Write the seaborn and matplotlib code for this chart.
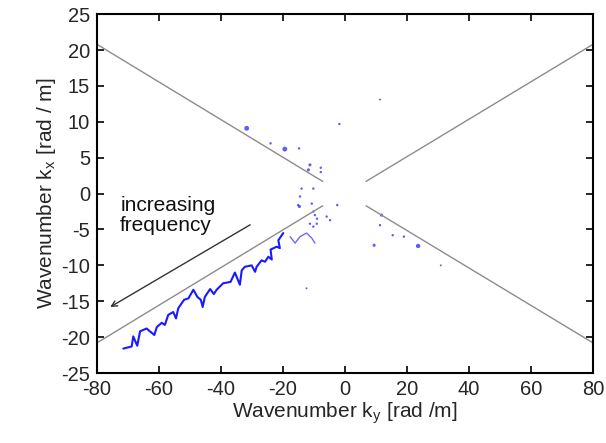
import matplotlib
matplotlib.use("Agg")
import matplotlib.pyplot as plt
import seaborn as sns
import pandas as pd
import numpy as np

# Gray boundary lines (ky, kx endpoints)
line_ul_ky = [-80, -7.2]
line_ul_kx = [20.8, 1.7]
line_ur_ky = [6.8, 80]
line_ur_kx = [1.7, 20.8]
line_ll_ky = [-80, -7.2]
line_ll_kx = [-20.8, -1.7]
line_lr_ky = [6.8, 80]
line_lr_kx = [-1.7, -20.8]

# Blue wiggly ridge
curve_ky = [-71.5, -68.8, -68.3, -67.0, -66.1, -64.0, -62.9, -61.5, -60.7, -59.1,
            -58.1, -57.0, -55.4, -54.5, -53.8, -51.9, -50.5, -48.9, -47.6, -46.5,
            -45.9, -45.2, -43.5, -42.3, -41.4, -39.3, -36.9, -35.5, -33.9, -33.3,
            -32.3, -30.1, -29.0, -28.5, -26.9, -25.8, -24.7, -23.6, -24.0, -22.0,
            -21.0, -21.5, -19.9]
curve_kx = [-21.6, -21.3, -19.9, -21.2, -19.2, -18.8, -19.2, -19.7, -18.6, -18.0,
            -18.3, -16.9, -16.5, -17.4, -16.0, -14.8, -14.6, -13.4, -14.4, -14.8,
            -15.8, -14.4, -13.3, -14.0, -13.4, -12.5, -12.3, -11.0, -12.7, -10.7,
            -10.2, -10.0, -10.9, -10.2, -9.3, -9.5, -8.8, -9.2, -7.8, -7.4,
            -7.6, -6.5, -5.5]

# Fainter continuation
tail_ky = [-17.7, -16.1, -14.5, -12.4, -10.7, -9.7]
tail_kx = [-6.0, -6.9, -6.0, -5.5, -6.2, -6.9]

# Scattered points
dots_ky = [-31.7, -24.0, -19.4, -14.8, -11.3, -11.8, -7.8, -7.8, -1.8, 11.3,
           -14.0, -10.2, -14.5, -14.7, -10.7, -10.2, -9.7, -11.3, -9.1, -10.2,
           -5.9, -4.8, -2.5, 11.8, 11.3, 15.4, 19.0, 23.6, 9.4, 30.9, -12.4,
           -15.1, -9.0]
dots_kx = [9.1, 7.0, 6.2, 6.3, 4.0, 3.3, 3.6, 3.0, 9.7, 13.1,
           0.7, 0.7, -0.4, -1.8, -1.4, -2.5, -3.0, -4.2, -4.2, -4.6,
           -3.2, -3.7, -1.6, -3.0, -4.4, -5.8, -6.0, -7.3, -7.2, -10.0, -13.2,
           -1.6, -3.5]
dots_size = [12, 3, 12, 3, 5, 5, 3, 3, 3, 2,
             3, 3, 3, 5, 3, 3, 3, 3, 3, 3,
             3, 3, 3, 5, 3, 3, 3, 10, 5, 2, 2,
             3, 3]

x_ticks = [-80, -60, -40, -20, 0, 20, 40, 60, 80]
y_ticks = [-25, -20, -15, -10, -5, 0, 5, 10, 15, 20, 25]

sns.set_theme(style="ticks")
plt.rcParams['font.family'] = ['Liberation Sans', 'DejaVu Sans']
plt.rcParams['axes.unicode_minus'] = False

fig = plt.figure(figsize=(6.06, 4.43), dpi=100)
ax = fig.add_axes([0.160, 0.158, 0.8185, 0.810])

gray = "#8c8c8c"
for kys, kxs in [(line_ul_ky, line_ul_kx), (line_ur_ky, line_ur_kx),
                 (line_ll_ky, line_ll_kx), (line_lr_ky, line_lr_kx)]:
    sns.lineplot(x=kys, y=kxs, ax=ax, color=gray, lw=1.0, sort=False)

sns.lineplot(x=curve_ky, y=curve_kx, ax=ax, color="#1a1aff", lw=1.5, sort=False)
sns.lineplot(x=tail_ky, y=tail_kx, ax=ax, color="#6b6bff", lw=1.0, sort=False)

dots = pd.DataFrame({"ky": dots_ky, "kx": dots_kx, "s": dots_size})
sns.scatterplot(data=dots, x="ky", y="kx", size="s", sizes=(2, 12), ax=ax,
                color="#3333ff", edgecolor="none", alpha=0.8, legend=False)

ax.annotate("", xy=(-76.5, -16.0), xytext=(-29.8, -4.15),
            arrowprops=dict(arrowstyle="->", color="#333333", lw=1.0,
                            mutation_scale=10))
ax.text(-72.5, -0.3, "increasing\nfrequency", fontsize=15, color="#111111",
        va="top", ha="left", linespacing=1.1)

ax.set_xlim(-80, 80)
ax.set_ylim(-25, 25)
ax.set_xticks(x_ticks)
ax.set_yticks(y_ticks)
ax.tick_params(direction="in", top=True, right=True, length=5, width=1.2,
               labelsize=14.5, color="black", pad=5)
for sp in ax.spines.values():
    sp.set_visible(True)
    sp.set_linewidth(1.5)
    sp.set_color("black")
ax.set_xlabel("Wavenumber k$_\\mathregular{y}$ [rad /m]", fontsize=15, labelpad=1)
ax.set_ylabel("Wavenumber k$_\\mathregular{x}$ [rad / m]", fontsize=15, labelpad=2)

fig.savefig("out.png", dpi=100)
